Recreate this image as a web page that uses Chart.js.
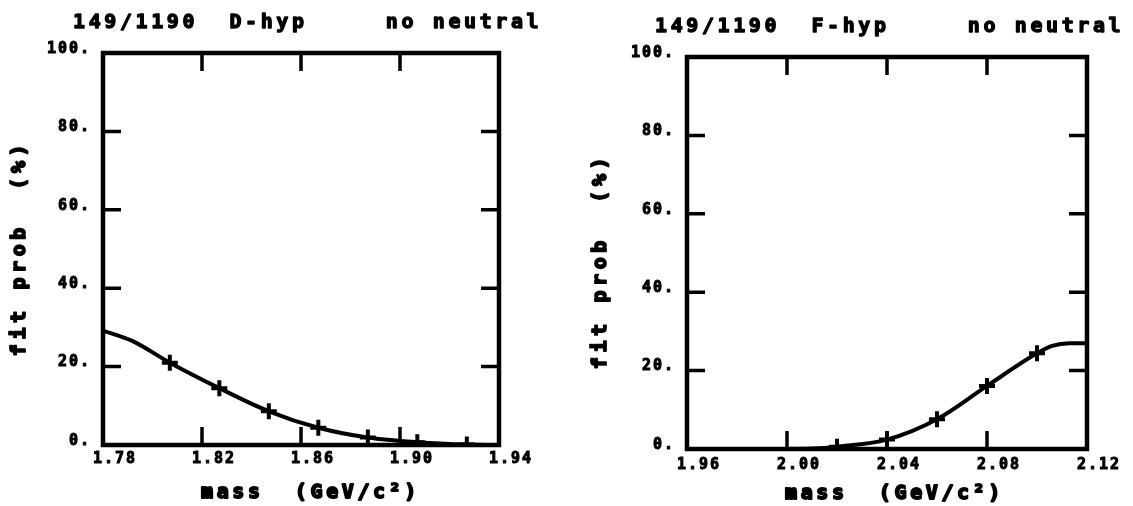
<!DOCTYPE html>
<html>
<head>
<meta charset="utf-8">
<script src="https://cdn.jsdelivr.net/npm/chart.js@4/dist/chart.umd.min.js"></script>
<style>
  html, body { margin: 0; padding: 0; background: #fff; }
  #wrap { position: relative; width: 1133px; height: 506px; overflow: hidden; }
  canvas { position: absolute; top: 0; }
  #cD { left: 0; }
  #cF { left: 566px; }
</style>
</head>
<body>
<div id="wrap">
  <canvas id="cD" width="566" height="506"></canvas>
  <canvas id="cF" width="567" height="506"></canvas>
</div>
<script>
// D hypothesis: fitted curve and computed points (mass in GeV/c^2, fit probability in %)
const massCurveD = [1.780, 1.792, 1.807, 1.827, 1.847, 1.867, 1.887, 1.907, 1.927, 1.940];
const probCurveD = [29.2, 26.5, 21.0, 14.5, 8.6, 4.4, 1.9, 0.7, 0.1, 0.0];
const massPointsD = [1.807, 1.827, 1.847, 1.867, 1.887, 1.907, 1.927];
const probPointsD = [21.0, 14.5, 8.6, 4.4, 1.9, 0.7, 0.1];

// F hypothesis
const massCurveF = [1.960, 2.000, 2.010, 2.020, 2.040, 2.060, 2.080, 2.100, 2.106, 2.113, 2.120];
const probCurveF = [0.0, 0.0, 0.1, 0.6, 2.4, 7.6, 16.1, 24.4, 26.3, 27.0, 27.0];
const massPointsF = [2.02, 2.04, 2.06, 2.08, 2.10];
const probPointsF = [0.6, 2.4, 7.6, 16.1, 24.4];

// axis ticks
const massTicksD = [1.78, 1.82, 1.86, 1.90, 1.94];
const massTicksF = [1.96, 2.00, 2.04, 2.08, 2.12];
const probTicks = [0, 20, 40, 60, 80, 100];

// texts
const titleD = '149/1190  D-hyp     no neutral';
const titleF = '149/1190  F-hyp     no neutral';
const massLabel = 'mass  (GeV/c\u00B2)';
const probLabel = 'fit prob  (%)';

const FONT = '"DejaVu Sans Mono", "Liberation Mono", monospace';

function pairs(xs, ys) { return xs.map((v, i) => ({ x: v, y: ys[i] })); }

// heavy pen-plotter style text: fill plus a thin outline
function inkText(ctx, s, x, y) {
  ctx.fillText(s, x, y);
  ctx.strokeText(s, x, y);
}

// boxed frame with inward ticks on all four sides, plus spaced-out labels
const framePlugin = {
  id: 'frame',
  beforeDraw(chart) { chart.ctx.letterSpacing = '2px'; },
  afterDatasetsDraw(chart) {
    const { ctx, chartArea: a, scales: { x, y } } = chart;
    ctx.save();
    ctx.strokeStyle = '#000';
    ctx.lineWidth = 4.5;
    ctx.lineJoin = 'miter';
    ctx.strokeRect(a.left, a.top, a.right - a.left, a.bottom - a.top);
    ctx.lineWidth = 3.5;
    ctx.lineCap = 'butt';
    const L = 18;
    ctx.beginPath();
    x.ticks.forEach(t => {
      const px = x.getPixelForValue(t.value);
      if (px <= a.left + 1 || px >= a.right - 1) return;
      ctx.moveTo(px, a.bottom); ctx.lineTo(px, a.bottom - L);
      ctx.moveTo(px, a.top); ctx.lineTo(px, a.top + L);
    });
    y.ticks.forEach(t => {
      const py = y.getPixelForValue(t.value);
      if (py <= a.top + 1 || py >= a.bottom - 1) return;
      ctx.moveTo(a.left, py); ctx.lineTo(a.left + L, py);
      ctx.moveTo(a.right, py); ctx.lineTo(a.right - L, py);
    });
    ctx.stroke();
    ctx.restore();
  },
  afterDraw(chart, args, o) {
    const ctx = chart.ctx;
    ctx.save();
    ctx.fillStyle = '#000';
    ctx.strokeStyle = '#000';
    ctx.lineWidth = 1.3;
    ctx.lineJoin = 'round';
    ctx.font = 'bold 20px ' + FONT;
    ctx.textBaseline = 'middle';
    ctx.textAlign = 'left';
    ctx.letterSpacing = '3.6px';
    inkText(ctx, o.title, o.titleX, o.titleY);
    ctx.lineWidth = 1.8;
    inkText(ctx, o.xTitle, o.xTitleX, o.xTitleY);
    ctx.translate(o.yTitleX, o.yTitleY);
    ctx.rotate(-Math.PI / 2);
    ctx.textAlign = 'center';
    ctx.letterSpacing = '4.6px';
    inkText(ctx, o.yTitle, 0, 0);
    ctx.restore();
  }
};

function makeChart(id, cfg) {
  return new Chart(document.getElementById(id), {
    type: 'scatter',
    data: {
      datasets: [
        {
          data: pairs(cfg.curveX, cfg.curveY),
          showLine: true,
          borderColor: '#000',
          borderWidth: 4,
          pointRadius: 0,
          cubicInterpolationMode: 'monotone',
          fill: false
        },
        {
          data: pairs(cfg.pointX, cfg.pointY),
          showLine: false,
          pointStyle: 'cross',
          pointRadius: 8,
          pointBorderWidth: 4,
          pointBorderColor: '#000',
          borderColor: '#000',
          backgroundColor: '#000'
        }
      ]
    },
    options: {
      responsive: false,
      devicePixelRatio: 1,
      animation: false,
      layout: { padding: { left: 0, top: cfg.top, right: cfg.right, bottom: 0 } },
      plugins: {
        legend: { display: false },
        tooltip: { enabled: false },
        frame: {
          title: cfg.title, titleX: cfg.titleX, titleY: cfg.titleY,
          xTitle: massLabel, xTitleX: cfg.xTitleX, xTitleY: cfg.xTitleY,
          yTitle: probLabel, yTitleX: cfg.yTitleX, yTitleY: cfg.yTitleY
        }
      },
      scales: {
        x: {
          type: 'linear',
          min: cfg.ticksX[0],
          max: cfg.ticksX[cfg.ticksX.length - 1],
          afterBuildTicks: s => { s.ticks = cfg.ticksX.map(v => ({ value: v })); },
          afterFit: s => { s.height = cfg.xHeight; },
          grid: { display: false },
          border: { display: false },
          ticks: {
            color: '#000',
            textStrokeColor: '#000',
            textStrokeWidth: 1,
            font: { family: FONT, size: 15, weight: 'bold' },
            padding: cfg.xPad,
            labelOffset: 12,
            maxRotation: 0,
            autoSkip: false,
            callback: v => Number(v).toFixed(2)
          }
        },
        y: {
          type: 'linear',
          min: 0,
          max: 100,
          afterBuildTicks: s => { s.ticks = probTicks.map(v => ({ value: v })); },
          afterFit: s => { s.width = cfg.yWidth; },
          grid: { display: false },
          border: { display: false },
          ticks: {
            color: '#000',
            textStrokeColor: '#000',
            textStrokeWidth: 1,
            font: { family: FONT, size: 15, weight: 'bold' },
            padding: 4,
            labelOffset: -4,
            autoSkip: false,
            callback: v => v + '.'
          }
        }
      }
    },
    plugins: [framePlugin]
  });
}

makeChart('cD', {
  curveX: massCurveD, curveY: probCurveD, pointX: massPointsD, pointY: probPointsD,
  ticksX: massTicksD, top: 53, right: 67, xHeight: 61, yWidth: 103, xPad: -3,
  title: titleD, titleX: 73, titleY: 23,
  xTitleX: 201, xTitleY: 493, yTitleX: 20, yTitleY: 248
});

makeChart('cF', {
  curveX: massCurveF, curveY: probCurveF, pointX: massPointsF, pointY: probPointsF,
  ticksX: massTicksF, top: 57, right: 46, xHeight: 57, yWidth: 121, xPad: -1,
  title: titleF, titleX: 89, titleY: 27,
  xTitleX: 219, xTitleY: 494, yTitleX: 35, yTitleY: 261
});
</script>
</body>
</html>
